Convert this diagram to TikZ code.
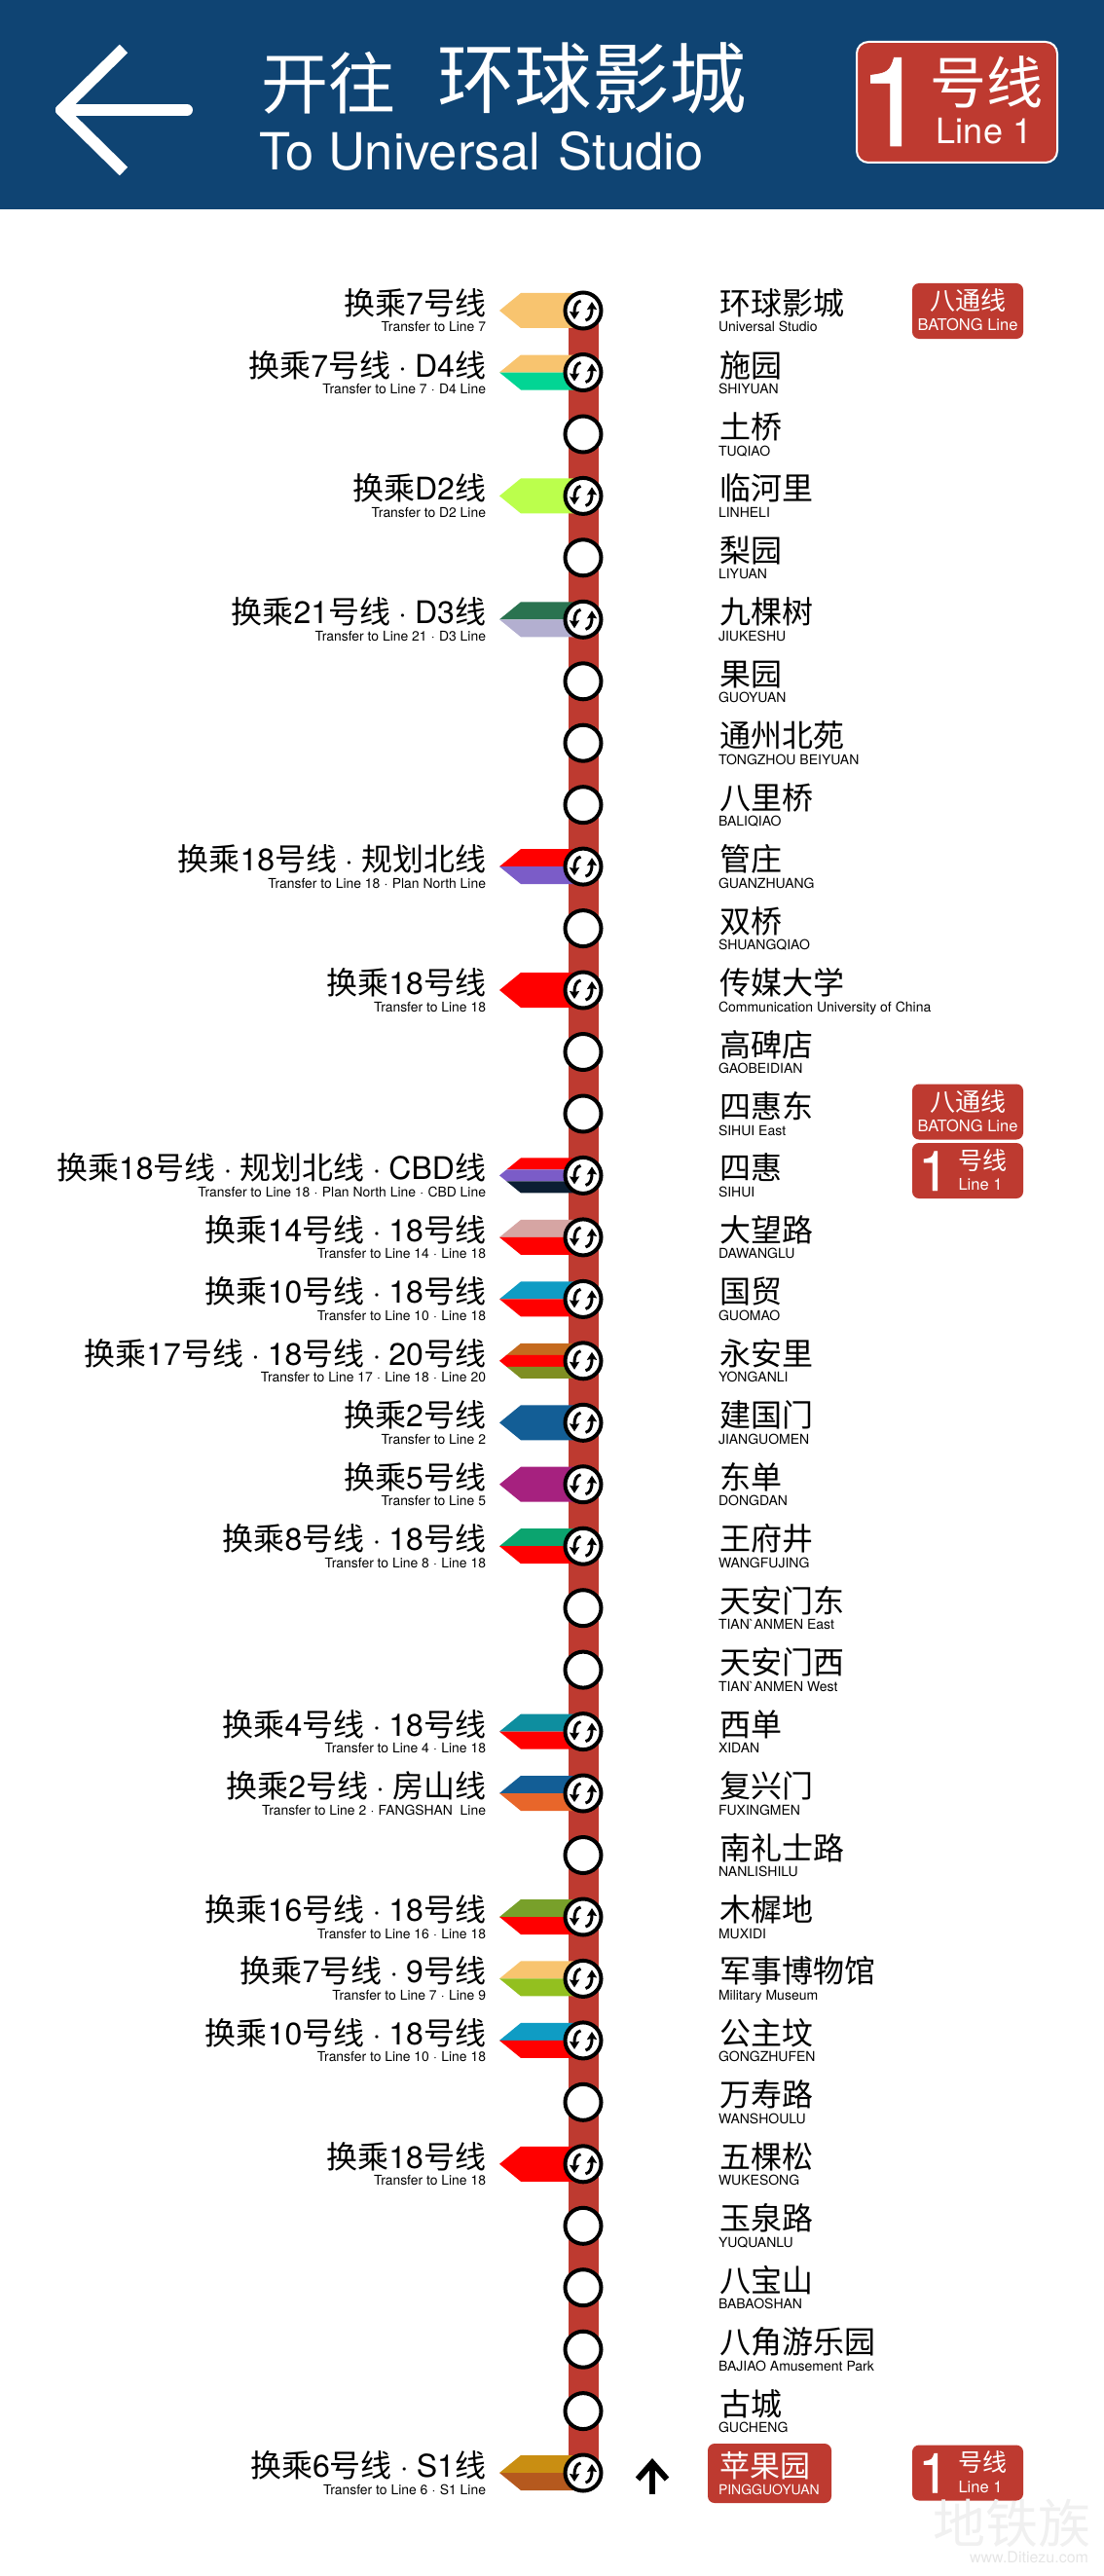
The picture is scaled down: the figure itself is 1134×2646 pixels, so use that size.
\documentclass[tikz,border=0pt]{standalone}
\usepackage{fontspec}
\setmainfont{TeX Gyre Heros}
\newfontfamily\cjk{Noto Sans CJK SC}
\newfontfamily\numfont[FakeBold=.5]{TeX Gyre Heros}
\usetikzlibrary{arrows.meta}
% Chinese runs switch to the CJK family on their own
\XeTeXinterchartokenstate=1
\newXeTeXintercharclass\cjkclass
\count255="4E00
\loop\XeTeXcharclass\count255=\cjkclass\ifnum\count255<"9FFF\advance\count255 by 1\repeat
\XeTeXinterchartoks 0 \cjkclass={\begingroup\cjk}
\XeTeXinterchartoks 4095 \cjkclass={\begingroup\cjk}
\XeTeXinterchartoks \cjkclass 0={\endgroup}
\XeTeXinterchartoks \cjkclass 4095={\endgroup}
\newcommand{\fs}[1]{\fontsize{#1}{#1}\selectfont}
\newcommand{\dt}{\hspace{.25em}·\hspace{.25em}}
\newcommand{\dte}{\hspace{.31em}·\hspace{.31em}}
\definecolor{trunk}{HTML}{BE3A30}
\definecolor{navy}{HTML}{0F4473}
\definecolor{lsev}{HTML}{F8C46F}
\definecolor{ldfour}{HTML}{02D594}
\definecolor{ldtwo}{HTML}{BBFF4C}
\definecolor{ltwoone}{HTML}{2A7350}
\definecolor{ldthree}{HTML}{B3AFD0}
\definecolor{leig}{HTML}{FF0000}
\definecolor{lplan}{HTML}{7B5CC8}
\definecolor{lcbd}{HTML}{0B1E33}
\definecolor{lfour}{HTML}{D6A5A3}
\definecolor{lten}{HTML}{0F9CC4}
\definecolor{lsvn}{HTML}{C56A1E}
\definecolor{ltwty}{HTML}{7F8E22}
\definecolor{ltwo}{HTML}{135E96}
\definecolor{lfive}{HTML}{A6217F}
\definecolor{leight}{HTML}{0BA46F}
\definecolor{lfr}{HTML}{0E8E9F}
\definecolor{lfang}{HTML}{E8662A}
\definecolor{lsix}{HTML}{78A02A}
\definecolor{lnine}{HTML}{93C01F}
\definecolor{lsx}{HTML}{C98E12}
\definecolor{lsone}{HTML}{B5591E}
\pgfdeclarelayer{edgelayer}
\pgfdeclarelayer{nodelayer}
\pgfsetlayers{edgelayer,nodelayer,main}
\tikzstyle{none}=[inner sep=0pt,outer sep=0pt]
\tikzstyle{stop}=[circle,fill=white,draw=black,line width=4pt,minimum size=37pt,inner sep=0pt]
\tikzstyle{xarc}=[line width=3pt,-{Stealth[length=8pt,width=10pt,inset=1pt]}]
\tikzstyle{xfer}=[stop,path picture={
	\begin{scope}[shift={(path picture bounding box.center)}]
		\draw[xarc] (-2.5,-10) .. controls (-7,-9) and (-9,-5) .. (-9,9);
		\draw[xarc] (2.5,10) .. controls (7,9) and (9,5) .. (9,-9);
	\end{scope}}]
\tikzstyle{zhl}=[none,anchor=base west,yshift=-1pt,font=\fs{32}]
\tikzstyle{enl}=[none,anchor=base west,font=\fs{14}]
\tikzstyle{zhr}=[none,anchor=base east,yshift=-1pt,font=\fs{32}]
\tikzstyle{enr}=[none,anchor=base east,font=\fs{13.9}]
\tikzstyle{badge}=[none,fill=trunk,rounded corners=7pt,minimum width=114pt,minimum height=57pt]
\tikzstyle{wht}=[none,anchor=base,text=white]
% flags left of the stops, y is the stop
\newcommand{\flagone}[2]{\fill[#2] (590,#1-18) -- (535,#1-18) -- (513,#1) -- (535,#1+18) -- (590,#1+18) -- cycle;}
\newcommand{\flagtwo}[3]{\fill[#2] (590,#1-18) -- (535,#1-18) -- (513,#1) -- (590,#1) -- cycle;
	\fill[#3] (590,#1) -- (513,#1) -- (535,#1+18) -- (590,#1+18) -- cycle;}
\newcommand{\flagthree}[4]{\fill[#2] (590,#1-18) -- (535,#1-18) -- (520.3,#1-6) -- (590,#1-6) -- cycle;
	\fill[#3] (590,#1-6) -- (520.3,#1-6) -- (513,#1) -- (520.3,#1+6) -- (590,#1+6) -- cycle;
	\fill[#4] (590,#1+6) -- (520.3,#1+6) -- (535,#1+18) -- (590,#1+18) -- cycle;}
% small red boards
\newcommand{\batong}[2]{\node [style=badge] (#2) at (994,#1) {};
	\node [style=wht,font=\fs{26}] (#2z) at (994,#1-1) {八通线};
	\node [style=wht,font=\fs{16.5}] (#2e) at (994,#1+20) {BATONG Line};}
\newcommand{\lineone}[2]{\node [style=badge] (#2) at (994,#1) {};
	\node [style=wht,font=\numfont\fs{57}] (#2n) at (959,#1+20.5) {1};
	\node [style=wht,font=\fs{25}] (#2z) at (1009,#1-1.5) {号线};
	\node [style=wht,font=\fs{16.5}] (#2e) at (1007,#1+20) {Line 1};}

\begin{document}
\begin{tikzpicture}[x=1pt,y=-1pt]
	\useasboundingbox (0,0) rectangle (1134,2646);
	\begin{pgfonlayer}{nodelayer}
		% stops
		\node [style=xfer] (0) at (599, 319) {};
		\node [style=xfer] (1) at (599, 382.5) {};
		\node [style=stop] (2) at (599, 446) {};
		\node [style=xfer] (3) at (599, 509.4) {};
		\node [style=stop] (4) at (599, 572.8) {};
		\node [style=xfer] (5) at (599, 636.3) {};
		\node [style=stop] (6) at (599, 699.8) {};
		\node [style=stop] (7) at (599, 763.2) {};
		\node [style=stop] (8) at (599, 826.7) {};
		\node [style=xfer] (9) at (599, 890.1) {};
		\node [style=stop] (10) at (599, 953.6) {};
		\node [style=xfer] (11) at (599, 1017) {};
		\node [style=stop] (12) at (599, 1080.5) {};
		\node [style=stop] (13) at (599, 1144) {};
		\node [style=xfer] (14) at (599, 1207.4) {};
		\node [style=xfer] (15) at (599, 1270.9) {};
		\node [style=xfer] (16) at (599, 1334.4) {};
		\node [style=xfer] (17) at (599, 1397.8) {};
		\node [style=xfer] (18) at (599, 1461.3) {};
		\node [style=xfer] (19) at (599, 1524.7) {};
		\node [style=xfer] (20) at (599, 1588.2) {};
		\node [style=stop] (21) at (599, 1651.7) {};
		\node [style=stop] (22) at (599, 1715.1) {};
		\node [style=xfer] (23) at (599, 1778.6) {};
		\node [style=xfer] (24) at (599, 1842) {};
		\node [style=stop] (25) at (599, 1905.5) {};
		\node [style=xfer] (26) at (599, 1969) {};
		\node [style=xfer] (27) at (599, 2032.4) {};
		\node [style=xfer] (28) at (599, 2095.9) {};
		\node [style=stop] (29) at (599, 2159.3) {};
		\node [style=xfer] (30) at (599, 2222.8) {};
		\node [style=stop] (31) at (599, 2286.3) {};
		\node [style=stop] (32) at (599, 2349.7) {};
		\node [style=stop] (33) at (599, 2413.2) {};
		\node [style=stop] (34) at (599, 2476.6) {};
		\node [style=xfer] (35) at (599, 2540) {};
		% station names
		\node [style=zhl] (n0) at (739, 322.5) {环球影城};
		\node [style=enl] (p0) at (738, 341) {Universal Studio};
		\node [style=zhl] (n1) at (739, 386) {施园};
		\node [style=enl] (p1) at (738, 404.5) {SHIYUAN};
		\node [style=zhl] (n2) at (739, 449.5) {土桥};
		\node [style=enl] (p2) at (738, 468) {TUQIAO};
		\node [style=zhl] (n3) at (739, 512.9) {临河里};
		\node [style=enl] (p3) at (738, 531.4) {LINHELI};
		\node [style=zhl] (n4) at (739, 576.3) {梨园};
		\node [style=enl] (p4) at (738, 594.8) {LIYUAN};
		\node [style=zhl] (n5) at (739, 639.8) {九棵树};
		\node [style=enl] (p5) at (738, 658.3) {JIUKESHU};
		\node [style=zhl] (n6) at (739, 703.3) {果园};
		\node [style=enl] (p6) at (738, 721.8) {GUOYUAN};
		\node [style=zhl] (n7) at (739, 766.7) {通州北苑};
		\node [style=enl] (p7) at (738, 785.2) {TONGZHOU BEIYUAN};
		\node [style=zhl] (n8) at (739, 830.2) {八里桥};
		\node [style=enl] (p8) at (738, 848.7) {BALIQIAO};
		\node [style=zhl] (n9) at (739, 893.6) {管庄};
		\node [style=enl] (p9) at (738, 912.1) {GUANZHUANG};
		\node [style=zhl] (n10) at (739, 957.1) {双桥};
		\node [style=enl] (p10) at (738, 975.6) {SHUANGQIAO};
		\node [style=zhl] (n11) at (739, 1020.5) {传媒大学};
		\node [style=enl] (p11) at (738, 1039) {Communication University of China};
		\node [style=zhl] (n12) at (739, 1084) {高碑店};
		\node [style=enl] (p12) at (738, 1102.5) {GAOBEIDIAN};
		\node [style=zhl] (n13) at (739, 1147.5) {四惠东};
		\node [style=enl] (p13) at (738, 1166) {SIHUI East};
		\node [style=zhl] (n14) at (739, 1210.9) {四惠};
		\node [style=enl] (p14) at (738, 1229.4) {SIHUI};
		\node [style=zhl] (n15) at (739, 1274.4) {大望路};
		\node [style=enl] (p15) at (738, 1292.9) {DAWANGLU};
		\node [style=zhl] (n16) at (739, 1337.9) {国贸};
		\node [style=enl] (p16) at (738, 1356.4) {GUOMAO};
		\node [style=zhl] (n17) at (739, 1401.3) {永安里};
		\node [style=enl] (p17) at (738, 1419.8) {YONGANLI};
		\node [style=zhl] (n18) at (739, 1464.8) {建国门};
		\node [style=enl] (p18) at (738, 1483.3) {JIANGUOMEN};
		\node [style=zhl] (n19) at (739, 1528.2) {东单};
		\node [style=enl] (p19) at (738, 1546.7) {DONGDAN};
		\node [style=zhl] (n20) at (739, 1591.7) {王府井};
		\node [style=enl] (p20) at (738, 1610.2) {WANGFUJING};
		\node [style=zhl] (n21) at (739, 1655.2) {天安门东};
		\node [style=enl] (p21) at (738, 1673.7) {TIAN\textasciigrave ANMEN East};
		\node [style=zhl] (n22) at (739, 1718.6) {天安门西};
		\node [style=enl] (p22) at (738, 1737.1) {TIAN\textasciigrave ANMEN West};
		\node [style=zhl] (n23) at (739, 1782.1) {西单};
		\node [style=enl] (p23) at (738, 1800.6) {XIDAN};
		\node [style=zhl] (n24) at (739, 1845.5) {复兴门};
		\node [style=enl] (p24) at (738, 1864) {FUXINGMEN};
		\node [style=zhl] (n25) at (739, 1909) {南礼士路};
		\node [style=enl] (p25) at (738, 1927.5) {NANLISHILU};
		\node [style=zhl] (n26) at (739, 1972.5) {木樨地};
		\node [style=enl] (p26) at (738, 1991) {MUXIDI};
		\node [style=zhl] (n27) at (739, 2035.9) {军事博物馆};
		\node [style=enl] (p27) at (738, 2054.4) {Military Museum};
		\node [style=zhl] (n28) at (739, 2099.4) {公主坟};
		\node [style=enl] (p28) at (738, 2117.9) {GONGZHUFEN};
		\node [style=zhl] (n29) at (739, 2162.8) {万寿路};
		\node [style=enl] (p29) at (738, 2181.3) {WANSHOULU};
		\node [style=zhl] (n30) at (739, 2226.3) {五棵松};
		\node [style=enl] (p30) at (738, 2244.8) {WUKESONG};
		\node [style=zhl] (n31) at (739, 2289.8) {玉泉路};
		\node [style=enl] (p31) at (738, 2308.3) {YUQUANLU};
		\node [style=zhl] (n32) at (739, 2353.2) {八宝山};
		\node [style=enl] (p32) at (738, 2371.7) {BABAOSHAN};
		\node [style=zhl] (n33) at (739, 2416.7) {八角游乐园};
		\node [style=enl] (p33) at (738, 2435.2) {BAJIAO Amusement Park};
		\node [style=zhl] (n34) at (739, 2480.1) {古城};
		\node [style=enl] (p34) at (738, 2498.6) {GUCHENG};
		\node [style=badge,minimum width=127pt,minimum height=61pt] (end) at (790.5, 2540.5) {};
		\node [style=zhl,text=white,font=\fs{31}] (n35) at (739, 2543) {苹果园};
		\node [style=enl,text=white] (p35) at (738, 2562) {PINGGUOYUAN};
		% transfer labels
		\node [style=zhr] (t0) at (499, 322.5) {换乘7号线};
		\node [style=enr] (u0) at (499, 341) {Transfer to Line 7};
		\node [style=zhr] (t1) at (499, 386) {换乘7号线\dt D4线};
		\node [style=enr] (u1) at (499, 404.5) {Transfer to Line 7\dte D4 Line};
		\node [style=zhr] (t3) at (499, 512.9) {换乘D2线};
		\node [style=enr] (u3) at (499, 531.4) {Transfer to D2 Line};
		\node [style=zhr] (t5) at (499, 639.8) {换乘21号线\dt D3线};
		\node [style=enr] (u5) at (499, 658.3) {Transfer to Line 21\dte D3 Line};
		\node [style=zhr] (t9) at (499, 893.6) {换乘18号线\dt 规划北线};
		\node [style=enr] (u9) at (499, 912.1) {Transfer to Line 18\dte Plan North Line};
		\node [style=zhr] (t11) at (499, 1020.5) {换乘18号线};
		\node [style=enr] (u11) at (499, 1039) {Transfer to Line 18};
		\node [style=zhr] (t14) at (499, 1210.9) {换乘18号线\dt 规划北线\dt CBD线};
		\node [style=enr] (u14) at (499, 1229.4) {Transfer to Line 18\dte Plan North Line\dte CBD Line};
		\node [style=zhr] (t15) at (499, 1274.4) {换乘14号线\dt 18号线};
		\node [style=enr] (u15) at (499, 1292.9) {Transfer to Line 14\dte Line 18};
		\node [style=zhr] (t16) at (499, 1337.9) {换乘10号线\dt 18号线};
		\node [style=enr] (u16) at (499, 1356.4) {Transfer to Line 10\dte Line 18};
		\node [style=zhr] (t17) at (499, 1401.3) {换乘17号线\dt 18号线\dt 20号线};
		\node [style=enr] (u17) at (499, 1419.8) {Transfer to Line 17\dte Line 18\dte Line 20};
		\node [style=zhr] (t18) at (499, 1464.8) {换乘2号线};
		\node [style=enr] (u18) at (499, 1483.3) {Transfer to Line 2};
		\node [style=zhr] (t19) at (499, 1528.2) {换乘5号线};
		\node [style=enr] (u19) at (499, 1546.7) {Transfer to Line 5};
		\node [style=zhr] (t20) at (499, 1591.7) {换乘8号线\dt 18号线};
		\node [style=enr] (u20) at (499, 1610.2) {Transfer to Line 8\dte Line 18};
		\node [style=zhr] (t23) at (499, 1782.1) {换乘4号线\dt 18号线};
		\node [style=enr] (u23) at (499, 1800.6) {Transfer to Line 4\dte Line 18};
		\node [style=zhr] (t24) at (499, 1845.5) {换乘2号线\dt 房山线};
		\node [style=enr] (u24) at (499, 1864) {Transfer to Line 2\dte FANGSHAN\ \ Line};
		\node [style=zhr] (t26) at (499, 1972.5) {换乘16号线\dt 18号线};
		\node [style=enr] (u26) at (499, 1991) {Transfer to Line 16\dte Line 18};
		\node [style=zhr] (t27) at (499, 2035.9) {换乘7号线\dt 9号线};
		\node [style=enr] (u27) at (499, 2054.4) {Transfer to Line 7\dte Line 9};
		\node [style=zhr] (t28) at (499, 2099.4) {换乘10号线\dt 18号线};
		\node [style=enr] (u28) at (499, 2117.9) {Transfer to Line 10\dte Line 18};
		\node [style=zhr] (t30) at (499, 2226.3) {换乘18号线};
		\node [style=enr] (u30) at (499, 2244.8) {Transfer to Line 18};
		\node [style=zhr] (t35) at (499, 2543.5) {换乘6号线\dt S1线};
		\node [style=enr] (u35) at (499, 2562) {Transfer to Line 6\dte S1 Line};
		% red boards
		\batong{319.5}{b0}
		\batong{1142}{b13}
		\lineone{1202.5}{b14}
		\lineone{2540}{b35}
		% head of the sign
		\node [style=none,fill=navy,minimum width=1134pt,minimum height=215pt] (head) at (567, 107.5) {};
		\node [style=none,anchor=base west,text=white,font=\fs{69}] (kw) at (268, 112) {开往};
		\node [style=none,anchor=base west,text=white,font=\fs{79.5}] (dest) at (449, 111) {环球影城};
		\node [style=none,anchor=base west,text=white,font=\fs{52.5}] (desten) at (266, 175) {To Universal\hspace{.36em}Studio};
		\node [style=none,fill=trunk,draw=white,line width=2pt,rounded corners=12pt,minimum width=206pt,minimum height=124pt] (sign) at (983, 105) {};
		\node [style=wht,font=\numfont\fs{128}] (signn) at (917, 150) {1};
		\node [style=wht,font=\fs{58}] (signz) at (1013, 107) {号线};
		\node [style=wht,font=\fs{36}] (signe) at (1011, 148) {Line 1};
		\coordinate (a0) at (127, 50);
		\coordinate (a1) at (63, 113);
		\coordinate (a2) at (127, 176);
		\coordinate (a3) at (192, 113);
		\coordinate (up0) at (670, 2562);
		\coordinate (up1) at (670, 2525);
		% watermark
		\node [style=none,anchor=base east,text=black!6,font=\fs{54}] (wm) at (1120, 2612) {地铁族};
		\node [style=none,anchor=base east,text=black!10,font=\fs{16}] (wmen) at (1118, 2632) {www.Ditiezu.com};
	\end{pgfonlayer}
	\begin{pgfonlayer}{edgelayer}
		\draw[line width=31pt,trunk] (0.center) to (35.center);
		\flagone{319}{lsev}
		\flagtwo{382.5}{lsev}{ldfour}
		\flagone{509.4}{ldtwo}
		\flagtwo{636.3}{ltwoone}{ldthree}
		\flagtwo{890.1}{leig}{lplan}
		\flagone{1017}{leig}
		\flagthree{1207.4}{leig}{lplan}{lcbd}
		\flagtwo{1270.9}{lfour}{leig}
		\flagtwo{1334.4}{lten}{leig}
		\flagthree{1397.8}{lsvn}{leig}{ltwty}
		\flagone{1461.3}{ltwo}
		\flagone{1524.7}{lfive}
		\flagtwo{1588.2}{leight}{leig}
		\flagtwo{1778.6}{lfr}{leig}
		\flagtwo{1842}{ltwo}{lfang}
		\flagtwo{1969}{lsix}{leig}
		\flagtwo{2032.4}{lsev}{lnine}
		\flagtwo{2095.9}{lten}{leig}
		\flagone{2222.8}{leig}
		\flagtwo{2540}{lsx}{lsone}
	\end{pgfonlayer}
	\draw[white,line width=12pt,line join=round] (a0) -- (a1) -- (a2);
	\draw[white,line width=12pt,line cap=round] (a1) -- (a3);
	\draw[line width=6pt,-{Straight Barb[length=17pt,width=30pt,line width=6pt]}] (up0) -- (up1);
\end{tikzpicture}
\end{document}
